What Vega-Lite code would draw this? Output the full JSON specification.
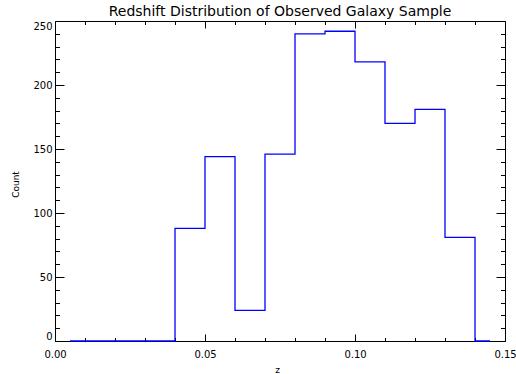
{
  "$schema": "https://vega.github.io/schema/vega-lite/v6.json",
  "width": 450,
  "height": 320,
  "autosize": {"type": "none"},
  "padding": {"left": 55, "top": 21, "right": 11, "bottom": 33},
  "background": "white",
  "title": {
    "text": "Redshift Distribution of Observed Galaxy Sample",
    "font": "DejaVu Sans",
    "fontSize": 14,
    "fontWeight": "normal",
    "color": "black",
    "anchor": "middle",
    "baseline": "alphabetic",
    "offset": -9
  },
  "data": {
    "values": [
      {"z": 0.005, "count": 0},
      {"z": 0.015, "count": 0},
      {"z": 0.025, "count": 0},
      {"z": 0.035, "count": 0},
      {"z": 0.045, "count": 88},
      {"z": 0.055, "count": 144},
      {"z": 0.065, "count": 24},
      {"z": 0.075, "count": 146},
      {"z": 0.085, "count": 240},
      {"z": 0.095, "count": 242},
      {"z": 0.105, "count": 218},
      {"z": 0.115, "count": 170},
      {"z": 0.125, "count": 181},
      {"z": 0.135, "count": 81},
      {"z": 0.145, "count": 0}
    ]
  },
  "resolve": {"axis": {"x": "independent", "y": "independent"}},
  "layer": [
    {
      "mark": {"type": "line", "interpolate": "step", "color": "#0000ff", "strokeWidth": 1.3},
      "encoding": {
        "x": {
          "field": "z", "type": "quantitative",
          "scale": {"domain": [0, 0.15], "nice": false, "zero": false},
          "axis": {
            "orient": "bottom", "values": [0, 0.05, 0.1, 0.15], "format": ".2f",
            "ticks": false, "domain": false, "grid": false,
            "labelPadding": 8, "labelFlush": false,
            "title": "z", "titleX": 222, "titleY": 28, "titleAlign": "center", "titleBaseline": "middle"
          }
        },
        "y": {
          "field": "count", "type": "quantitative",
          "scale": {"domain": [0, 250], "nice": false},
          "axis": {
            "orient": "left", "values": [0, 50, 100, 150, 200, 250],
            "ticks": false, "domain": false, "grid": false,
            "labelPadding": 3, "labelFlush": true, "labelFlushOffset": 0,
            "title": "Count", "titleX": -40, "titleY": 163, "titleAngle": 270,
            "titleAlign": "center", "titleBaseline": "middle"
          }
        }
      }
    },
    {
      "mark": {"type": "point", "opacity": 0},
      "encoding": {
        "x": {"field": "z", "type": "quantitative",
          "axis": {"orient": "bottom", "values": [0, 0.05, 0.1, 0.15], "labels": false, "domain": false, "grid": false, "ticks": true, "tickSize": -7, "title": null}},
        "y": {"field": "count", "type": "quantitative",
          "axis": {"orient": "left", "values": [0, 50, 100, 150, 200, 250], "labels": false, "domain": false, "grid": false, "ticks": true, "tickSize": -9, "title": null}}
      }
    },
    {
      "mark": {"type": "point", "opacity": 0},
      "encoding": {
        "x": {"field": "z", "type": "quantitative",
          "axis": {"orient": "bottom", "values": [0.01, 0.02, 0.03, 0.04, 0.06, 0.07, 0.08, 0.09, 0.11, 0.12, 0.13, 0.14], "labels": false, "domain": false, "grid": false, "ticks": true, "tickSize": -3.5, "title": null}},
        "y": {"field": "count", "type": "quantitative",
          "axis": {"orient": "left", "values": [10, 20, 30, 40, 60, 70, 80, 90, 110, 120, 130, 140, 160, 170, 180, 190, 210, 220, 230, 240], "labels": false, "domain": false, "grid": false, "ticks": true, "tickSize": -4.5, "title": null}}
      }
    },
    {
      "mark": {"type": "point", "opacity": 0},
      "encoding": {
        "x": {"field": "z", "type": "quantitative",
          "axis": {"orient": "top", "values": [0, 0.05, 0.1, 0.15], "labels": false, "domain": false, "grid": false, "ticks": true, "tickSize": -7, "title": null}},
        "y": {"field": "count", "type": "quantitative",
          "axis": {"orient": "right", "values": [0, 50, 100, 150, 200, 250], "labels": false, "domain": false, "grid": false, "ticks": true, "tickSize": -9, "title": null}}
      }
    },
    {
      "mark": {"type": "point", "opacity": 0},
      "encoding": {
        "x": {"field": "z", "type": "quantitative",
          "axis": {"orient": "top", "values": [0.01, 0.02, 0.03, 0.04, 0.06, 0.07, 0.08, 0.09, 0.11, 0.12, 0.13, 0.14], "labels": false, "domain": false, "grid": false, "ticks": true, "tickSize": -3.5, "title": null}},
        "y": {"field": "count", "type": "quantitative",
          "axis": {"orient": "right", "values": [10, 20, 30, 40, 60, 70, 80, 90, 110, 120, 130, 140, 160, 170, 180, 190, 210, 220, 230, 240], "labels": false, "domain": false, "grid": false, "ticks": true, "tickSize": -4.5, "title": null}}
      }
    }
  ],
  "config": {
    "view": {"stroke": "black", "strokeWidth": 1},
    "axis": {
      "labelFont": "DejaVu Sans", "labelFontSize": 10, "labelColor": "black",
      "titleFont": "DejaVu Sans", "titleFontSize": 9, "titleFontWeight": "normal", "titleColor": "black",
      "tickColor": "black", "tickWidth": 1
    }
  }
}
